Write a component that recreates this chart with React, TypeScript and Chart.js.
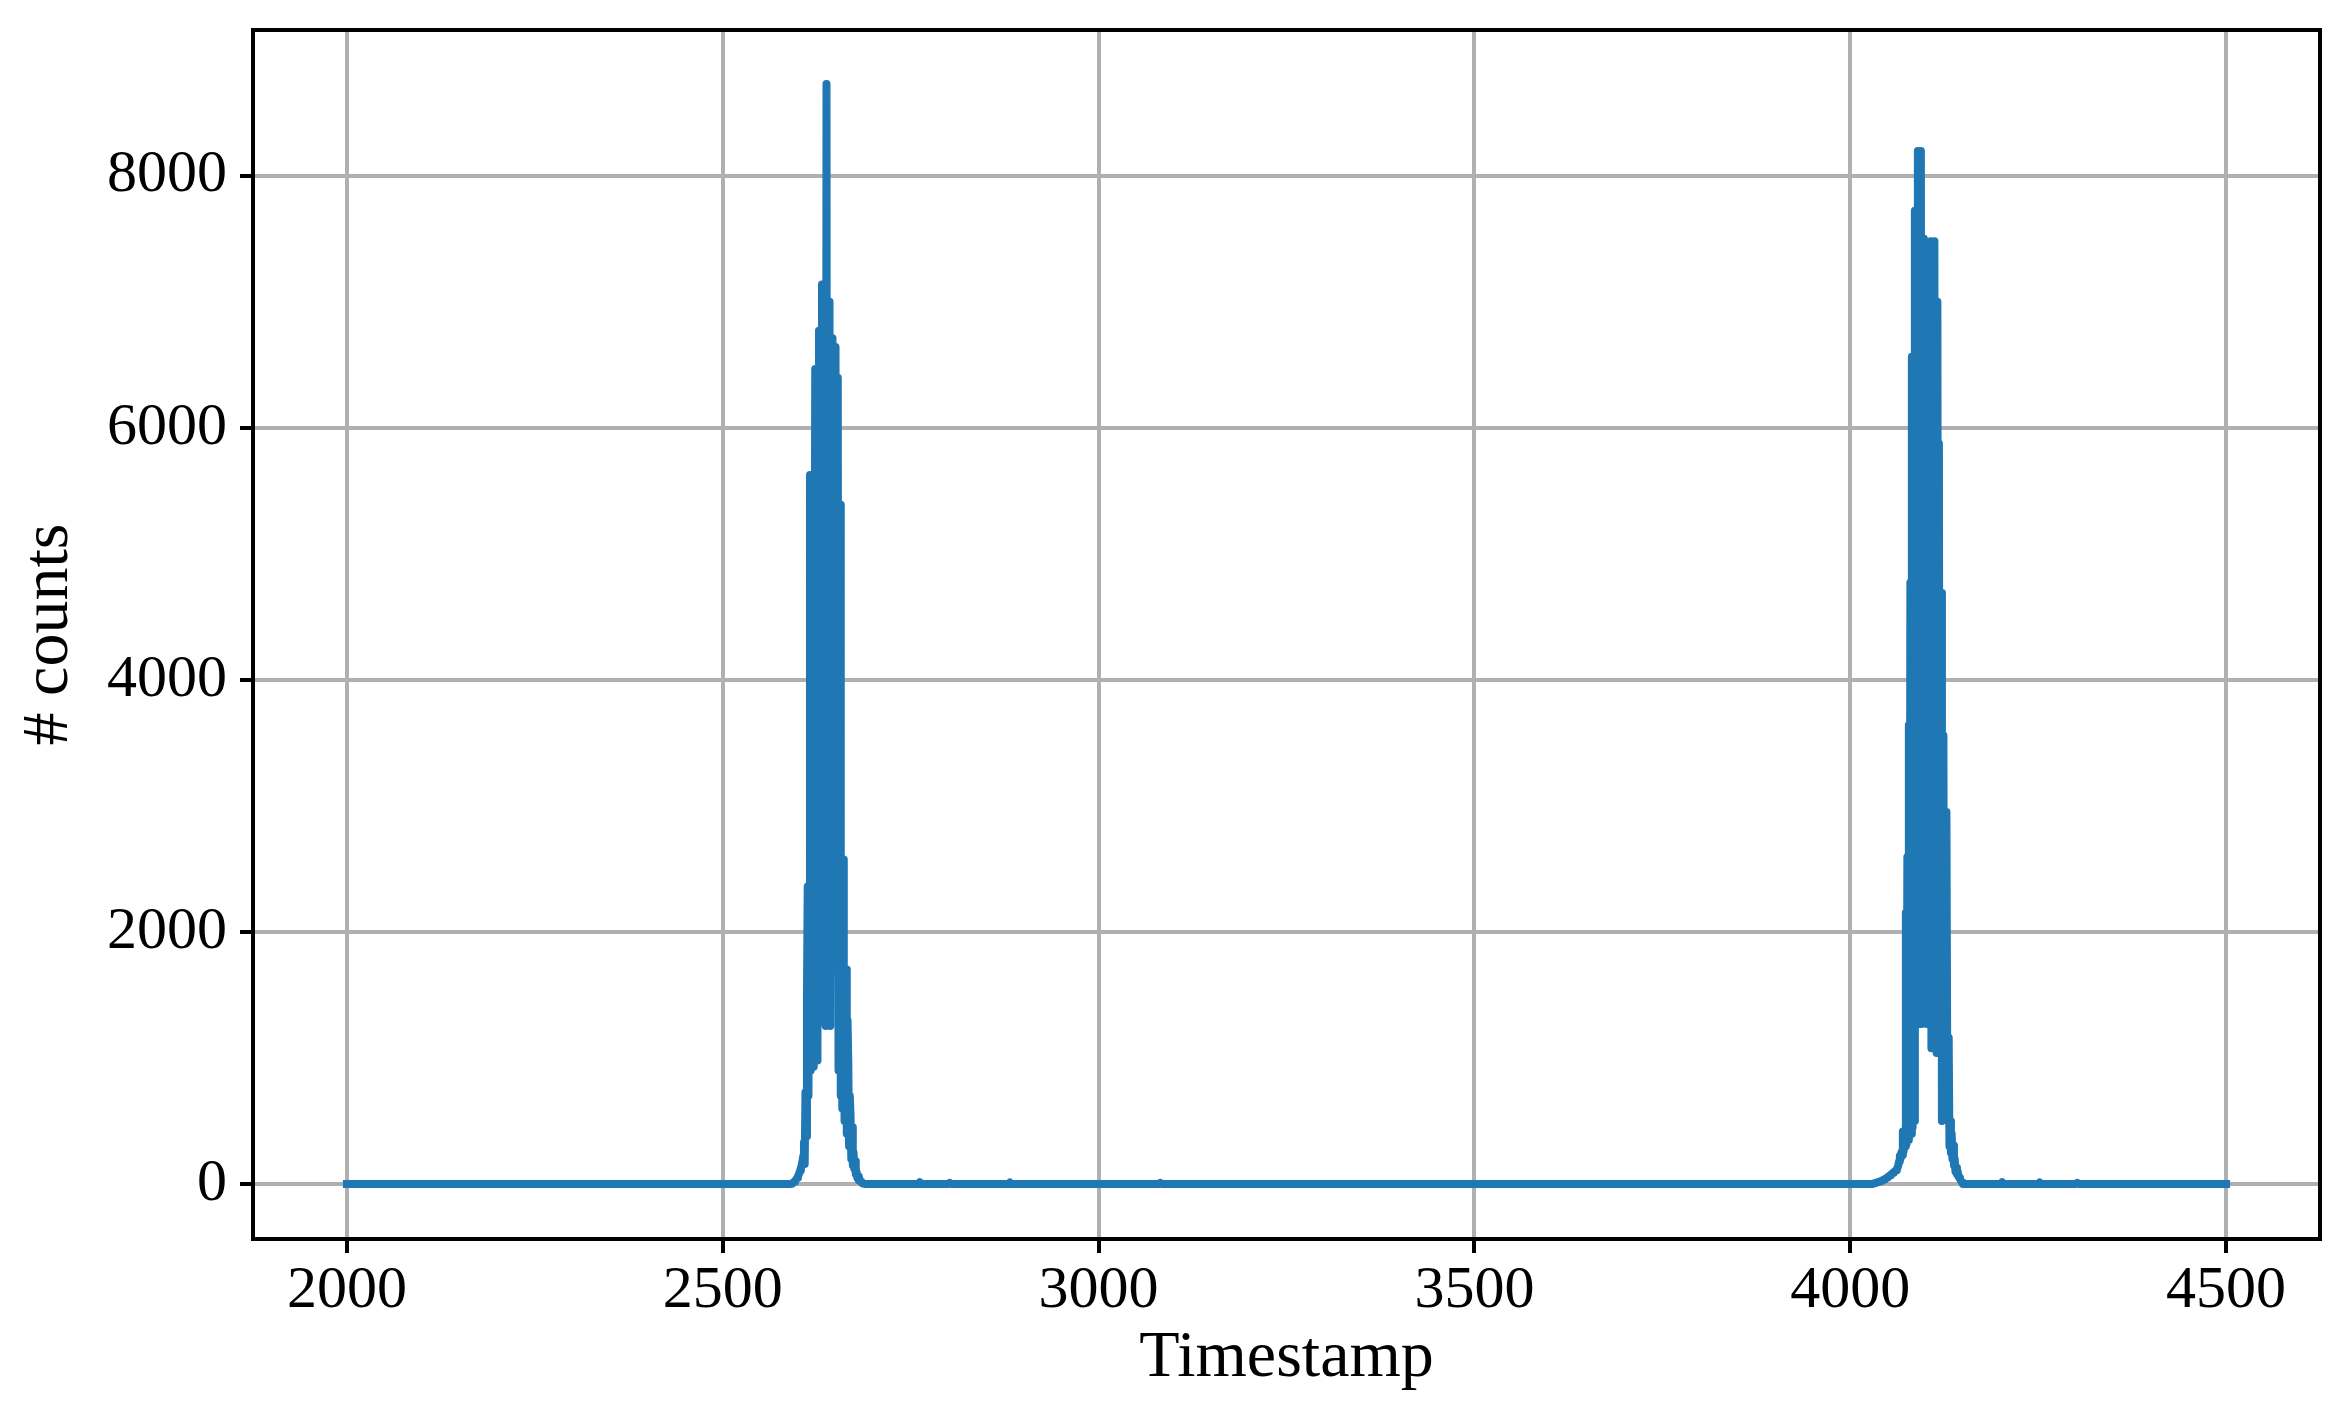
import React, { useEffect, useRef } from 'react';
import { Chart, registerables } from 'chart.js';

Chart.register(...registerables);

// ---- data ----
const peak1Start = 2590; // consecutive timestamps from here
const peak1Counts = [
  0, 3, 5, 8, 12, 18, 25, 30, 40, 50,
  60, 75, 90, 110, 130, 150, 180, 220, 330, 160,
  729, 380, 1500, 2361, 700, 2100, 5625, 900, 4200, 1050,
  5400, 930, 3800, 6466, 1150, 5100, 980, 6100, 6770, 1283,
  4800, 1300, 7137, 1600, 6300, 1280, 5900, 1254, 8728, 1260,
  6600, 1300, 7000, 1254, 5800, 1900, 6710, 1700, 6200, 2000,
  6640, 1693, 5000, 6398, 900, 4300, 5389, 700, 2300, 600,
  2575, 1500, 500, 1200, 1703, 400, 1300, 961, 300, 700,
  541, 200, 450, 150, 250, 120, 180, 80, 100, 50,
  60, 30, 40, 20, 15, 10, 5, 3, 2, 1,
  0,
];

const peak2Start = 4030;
const peak2Counts = [
  0, 3, 5, 8, 10, 12, 14, 16, 18, 20,
  22, 25, 28, 30, 33, 36, 40, 44, 48, 52,
  56, 60, 65, 70, 75, 80, 85, 90, 95, 100,
  105, 110, 120, 130, 150, 180, 223, 200, 250, 230,
  416, 260, 400, 300, 2153, 320, 2594, 350, 3642, 380,
  4771, 400, 6564, 450, 5800, 500, 7722, 2100, 6500, 1933,
  8196, 1270, 7000, 1500, 8196, 1270, 6800, 1400, 7500, 1300,
  6000, 7182, 1270, 6500, 1300, 7182, 1500, 7479, 1078, 6000,
  1100, 5200, 7479, 1078, 6500, 1040, 7000, 1040, 5875, 1200,
  4000, 4689, 500, 3000, 3559, 550, 2000, 600, 2952, 1100,
  700, 1160, 300, 499, 250, 400, 200, 306, 150, 200,
  100, 130, 80, 100, 60, 50, 40, 30, 20, 10,
  0,
];

const quietTimestamps = [2000, 2760, 2762, 2764, 2800, 2802, 2804, 2880, 2882, 2884, 3080, 3082, 3084, 4200, 4202, 4204, 4250, 4252, 4254, 4300, 4302, 4304, 4500];
const quietCounts = [0, 0, 15, 0, 0, 10, 0, 0, 12, 0, 0, 10, 0, 0, 15, 0, 0, 12, 0, 0, 10, 0, 0];

const xTickValues = [2000, 2500, 3000, 3500, 4000, 4500];
const yTickValues = [0, 2000, 4000, 6000, 8000];
const xLabel = 'Timestamp';
const yLabel = '# counts';

const FONT = "'Liberation Serif', 'Times New Roman', serif";

function buildPoints() {
  const pts: { x: number; y: number }[] = [];
  quietTimestamps.forEach((t, i) => pts.push({ x: t, y: quietCounts[i] }));
  peak1Counts.forEach((c, i) => pts.push({ x: peak1Start + i, y: c }));
  peak2Counts.forEach((c, i) => pts.push({ x: peak2Start + i, y: c }));
  pts.sort((a, b) => a.x - b.x);
  return pts;
}

const framePlugin = {
  id: 'frame',
  afterDraw(chart: any) {
    const { ctx, chartArea } = chart;
    const { left, top, right, bottom } = chartArea;
    ctx.save();
    ctx.strokeStyle = '#000';
    ctx.lineWidth = 4;
    ctx.strokeRect(left, top, right - left, bottom - top);
    ctx.restore();
  },
};

export default function App() {
  const ref = useRef<HTMLCanvasElement | null>(null);

  useEffect(() => {
    if (!ref.current) return;
    const chart = new Chart(ref.current, {
      type: 'line',
      data: {
        datasets: [
          {
            data: buildPoints(),
            borderColor: '#1f77b4',
            backgroundColor: '#1f77b4',
            borderWidth: 8,
            pointRadius: 0,
            tension: 0,
            fill: false,
            borderJoinStyle: 'round',
            borderCapStyle: 'square',
          },
        ],
      },
      options: {
        responsive: false,
        animation: false,
        devicePixelRatio: 1,
        layout: { padding: { top: 30, right: 31, left: 0, bottom: 0 } },
        plugins: { legend: { display: false }, tooltip: { enabled: false } },
        scales: {
          x: {
            type: 'linear',
            min: 1875,
            max: 4625,
            afterBuildTicks: (s: any) => {
              s.ticks = xTickValues.map((v) => ({ value: v }));
            },
            afterFit: (s: any) => {
              s.height = 181;
              s.paddingLeft = 0;
              s.paddingRight = 0;
            },
            ticks: {
              font: { family: FONT, size: 60 },
              color: '#000',
              padding: 2,
              maxRotation: 0,
              autoSkip: false,
              callback: (v: any) => String(v),
            },
            grid: {
              color: '#b0b0b0',
              lineWidth: 4,
              tickColor: '#000',
              tickWidth: 4,
              tickLength: 14,
            },
            border: { display: false },
            title: {
              display: true,
              text: xLabel,
              color: '#000',
              font: { family: FONT, size: 66 },
              padding: { top: 0, bottom: 22 },
            },
          },
          y: {
            type: 'linear',
            min: -436,
            max: 9156,
            afterBuildTicks: (s: any) => {
              s.ticks = yTickValues.map((v) => ({ value: v }));
            },
            afterFit: (s: any) => {
              s.width = 253;
              s.paddingTop = 0;
              s.paddingBottom = 0;
            },
            ticks: {
              font: { family: FONT, size: 60 },
              color: '#000',
              padding: 13,
              autoSkip: false,
              callback: (v: any) => String(v),
            },
            grid: {
              color: '#b0b0b0',
              lineWidth: 4,
              tickColor: '#000',
              tickWidth: 4,
              tickLength: 13,
            },
            border: { display: false },
            title: {
              display: true,
              text: yLabel,
              color: '#000',
              font: { family: FONT, size: 66 },
              padding: { top: 10, bottom: 0 },
            },
          },
        },
      },
      plugins: [framePlugin],
    } as any);
    return () => chart.destroy();
  }, []);

  return (
    <div style={{ position: 'fixed', left: 0, top: 0, width: 2351, height: 1420, background: '#fff' }}>
      <canvas ref={ref} width={2351} height={1420} style={{ width: 2351, height: 1420, display: 'block' }} />
    </div>
  );
}
